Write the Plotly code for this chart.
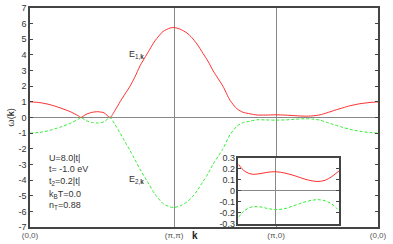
import plotly.graph_objects as go

# k-path position (units of pi): Gamma=0, M=sqrt2, X=sqrt2+1, Gamma=sqrt2+2
k_path = [0, 0.098, 0.196, 0.294, 0.392, 0.471, 0.500, 0.549, 0.608, 0.667, 0.726, 0.785,
          0.834, 0.883, 0.932, 0.981, 1.030, 1.079, 1.148, 1.226, 1.305, 1.374,
          1.414, 1.473, 1.540, 1.589, 1.638, 1.697, 1.746, 1.795, 1.844, 1.893, 1.962,
          2.031, 2.090, 2.159, 2.227, 2.306, 2.414,
          2.502, 2.600, 2.698, 2.767, 2.845, 2.914, 2.992, 3.070, 3.139, 3.237, 3.336, 3.414]
E1 = [1.00, 0.95, 0.82, 0.62, 0.38, 0.12, 0.0, 0.2, 0.33, 0.37, 0.3, 0.0,
      0.45, 1.0, 1.5, 2.0, 2.6, 3.3, 4.06, 4.9, 5.5, 5.72,
      5.75, 5.65, 5.4, 5.1, 4.7, 4.1, 3.6, 3.0, 2.5, 2.0, 1.1,
      0.55, 0.33, 0.235, 0.16, 0.155, 0.172,
      0.155, 0.115, 0.085, 0.1, 0.17, 0.3, 0.47, 0.62, 0.75, 0.88, 0.96, 1.0]
E2 = [-1.00, -0.95, -0.82, -0.62, -0.38, -0.12, 0.0, -0.2, -0.32, -0.35, -0.28, 0.0,
      -0.45, -1.0, -1.55, -2.1, -2.7, -3.3, -4.06, -4.9, -5.5, -5.72,
      -5.75, -5.65, -5.4, -5.1, -4.7, -4.1, -3.6, -3.0, -2.5, -2.0, -1.1,
      -0.55, -0.33, -0.235, -0.145, -0.155, -0.17,
      -0.155, -0.11, -0.08, -0.095, -0.17, -0.32, -0.48, -0.63, -0.76, -0.88, -0.96, -1.0]

# inset (zoom near X)
k_inset = [2.154, 2.178, 2.206, 2.248, 2.304, 2.359, 2.415, 2.478, 2.548, 2.617, 2.666,
           2.708, 2.757, 2.805, 2.854]
E1_inset = [0.24, 0.2, 0.17, 0.15, 0.155, 0.168, 0.172, 0.16, 0.135, 0.105, 0.09, 0.085,
            0.095, 0.13, 0.18]
E2_inset = [-0.24, -0.2, -0.17, -0.145, -0.145, -0.16, -0.17, -0.16, -0.13, -0.1, -0.085,
            -0.08, -0.09, -0.12, -0.18]

sym_pos = [0, 1.414, 2.414, 3.414]
sym_labels = ["(0,0)", "(\u03c0,\u03c0)", "(\u03c0,0)", "(0,0)"]
y_ticks = list(range(-7, 8))
y_inset_ticks = [-0.3, -0.2, -0.1, 0, 0.1, 0.2, 0.3]

params = ["U=8.0|t|", "t= -1.0 eV", "t<sub>2</sub>=0.2|t|", "k<sub>B</sub>T=0.0", "n<sub>T</sub>=0.88"]

RED = "#ff3030"
GREEN = "#33ee33"
AX = "#444444"
FONT = dict(family="Liberation Sans, Arial, sans-serif", size=9, color="#333333")
DASH = "3px,2px"

fig = go.Figure()
fig.add_trace(go.Scatter(x=k_path, y=E1, mode="lines", line=dict(color=RED, width=1, shape="spline", smoothing=0.6),
                         showlegend=False, xaxis="x", yaxis="y"))
fig.add_trace(go.Scatter(x=k_path, y=E2, mode="lines", line=dict(color=GREEN, width=1, dash=DASH, shape="spline", smoothing=0.6),
                         showlegend=False, xaxis="x", yaxis="y"))
fig.add_trace(go.Scatter(x=k_inset, y=E1_inset, mode="lines", line=dict(color=RED, width=1, shape="spline"),
                         showlegend=False, xaxis="x2", yaxis="y2"))
fig.add_trace(go.Scatter(x=k_inset, y=E2_inset, mode="lines", line=dict(color=GREEN, width=1, dash=DASH, shape="spline"),
                         showlegend=False, xaxis="x2", yaxis="y2"))

def fmt(v):
    return "%g" % v

fig.update_layout(
    width=393, height=244,
    margin=dict(l=30, r=15, t=3, b=17),
    paper_bgcolor="white", plot_bgcolor="white",
    font=FONT,
    xaxis=dict(range=[0, 3.414], tickvals=sym_pos, ticktext=sym_labels, showgrid=True,
               gridcolor="#888888", gridwidth=1, showline=True, linecolor=AX, linewidth=1.5,
               mirror=True, ticks="", zeroline=False, tickfont=dict(size=8, color="#555555")),
    yaxis=dict(range=[-7, 7], tickvals=y_ticks, ticktext=[fmt(v) for v in y_ticks], showgrid=False,
               showline=True, linecolor=AX, linewidth=1.5, mirror="ticks", ticks="inside",
               ticklen=3, tickcolor=AX, zeroline=True, zerolinecolor="#888888", zerolinewidth=1,
               tickfont=dict(size=9, color="#333333")),
    xaxis2=dict(domain=[0.599, 0.888], anchor="y2", range=[2.154, 2.854], tickvals=[2.414],
                showticklabels=False, showgrid=True, gridcolor="#888888", showline=True,
                linecolor=AX, linewidth=1.5, mirror=True, ticks="", zeroline=False),
    yaxis2=dict(domain=[0.0134, 0.317], anchor="x2", range=[-0.3, 0.3], tickvals=y_inset_ticks,
                ticktext=[fmt(v) for v in y_inset_ticks], showgrid=False, showline=True,
                linecolor=AX, linewidth=1.5, mirror="ticks", ticks="inside", ticklen=3, tickcolor=AX,
                zeroline=True, zerolinecolor="#888888", zerolinewidth=1,
                tickfont=dict(size=9, color="#333333")),
)

ann = [
    dict(x=-0.075, y=0.5, text="\u03c9(<b>k</b>)", textangle=-90, showarrow=False,
         xref="paper", yref="paper", font=dict(size=9, color="#333333")),
    dict(x=0.474, y=-0.075, text="<b>k</b>", showarrow=False, xref="paper", yref="paper",
         font=dict(size=10, color="#222222")),
    dict(x=0.278, y=0.821, text="E<sub>1,<b>k</b></sub>", showarrow=False, xref="paper", yref="paper",
         font=dict(size=9, color="#333333")),
    dict(x=0.278, y=0.183, text="E<sub>2,<b>k</b></sub>", showarrow=False, xref="paper", yref="paper",
         font=dict(size=9, color="#333333")),
]
for txt, yy in zip(params, [0.281, 0.232, 0.174, 0.116, 0.0625]):
    ann.append(dict(x=0.049, y=yy, text=txt, showarrow=False, xref="paper", yref="paper",
                    xanchor="left", font=dict(size=9, color="#333333")))
fig.update_layout(annotations=ann)

fig.write_html("out.html", config={"displayModeBar": False},
               post_script="document.body.style.margin='0';document.body.style.padding='0';")
